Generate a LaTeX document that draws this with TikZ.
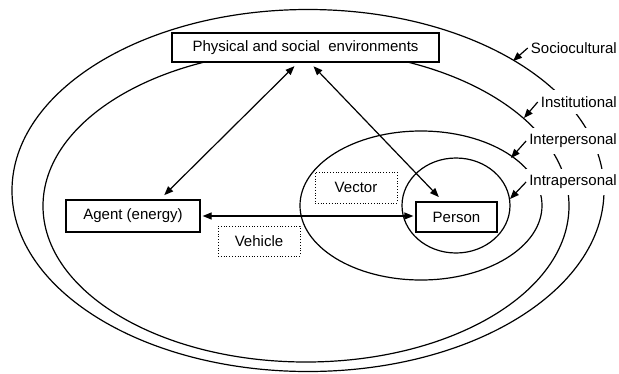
\documentclass[tikz,border=0pt]{standalone}
\usepackage{fontspec}
\setmainfont{Liberation Sans}
\usetikzlibrary{arrows.meta}
\newcommand{\diagfont}{\fontsize{15}{18}\selectfont}

\begin{document}
\begin{tikzpicture}[x=1pt, y=-1pt,
	box/.style={draw, line width=1.3pt, fill=white, inner sep=0pt, font=\diagfont},
	dotbox/.style={draw, dotted, line width=0.8pt, fill=white, inner sep=0pt, font=\diagfont},
	level/.style={fill=white, inner xsep=3pt, inner ysep=6pt, anchor=east, font=\diagfont},
	ring/.style={line width=1.2pt},
	link/.style={{Triangle[length=9pt,width=7pt]}-{Triangle[length=9pt,width=7pt]}, line width=1.2pt},
	pointer/.style={-{Triangle[length=9pt,width=7pt]}, line width=1.2pt}]

	\useasboundingbox (0,0) rectangle (619,373);

	% Nested levels
	\draw[ring] (308,190.5) ellipse [x radius=296, y radius=181];
	\draw[ring] (306,206) ellipse [x radius=263, y radius=156];
	\draw[ring] (421,205.5) ellipse [x radius=121, y radius=74.5];
	\draw[ring] (456,205.5) ellipse [x radius=54, y radius=47.5];

	% Level names (white behind them)
	\node[level] (socio) at (620,48) {Sociocultural};
	\node[level] (insti) at (620,102) {Institutional};
	\node[level] (inter) at (620,141) {Interpersonal};
	\node[level] (intra) at (620,182) {Intrapersonal};

	\coordinate (sociopt) at (513,61);
	\coordinate (instipt) at (524,118);
	\coordinate (interpt) at (511,158);
	\coordinate (intrapt) at (510,199);
	\draw[pointer] (socio.west) -- (sociopt);
	\draw[pointer] (insti.west) -- (instipt);
	\draw[pointer] (inter.west) -- (interpt);
	\draw[pointer] (intra.west) -- (intrapt);

	% Triangle
	\node[box, minimum width=267pt, minimum height=29pt] (env) at (305.5,47.5) {Physical and social\ \ environments};
	\node[box, minimum width=134pt, minimum height=32pt] (agent) at (133,216) {Agent (energy)};
	\node[box, minimum width=81pt, minimum height=30pt] (person) at (456.5,217) {Person};
	\node[dotbox, minimum width=82pt, minimum height=31pt] (vector) at (356,187.5) {Vector};
	\node[dotbox, minimum width=82pt, minimum height=30pt] (vehicle) at (259,241) {Vehicle};

	\draw[link, shorten <=6pt, shorten >=5pt] ([xshift=27pt]agent.north) -- ([xshift=-7.5pt]env.south);
	\draw[link, shorten <=5pt, shorten >=6pt] ([xshift=4.5pt]env.south) -- ([xshift=-13.5pt]person.north);
	\draw[link, shorten <=2pt, shorten >=2pt] (agent.east) -- (agent.east -| person.west);

\end{tikzpicture}
\end{document}
